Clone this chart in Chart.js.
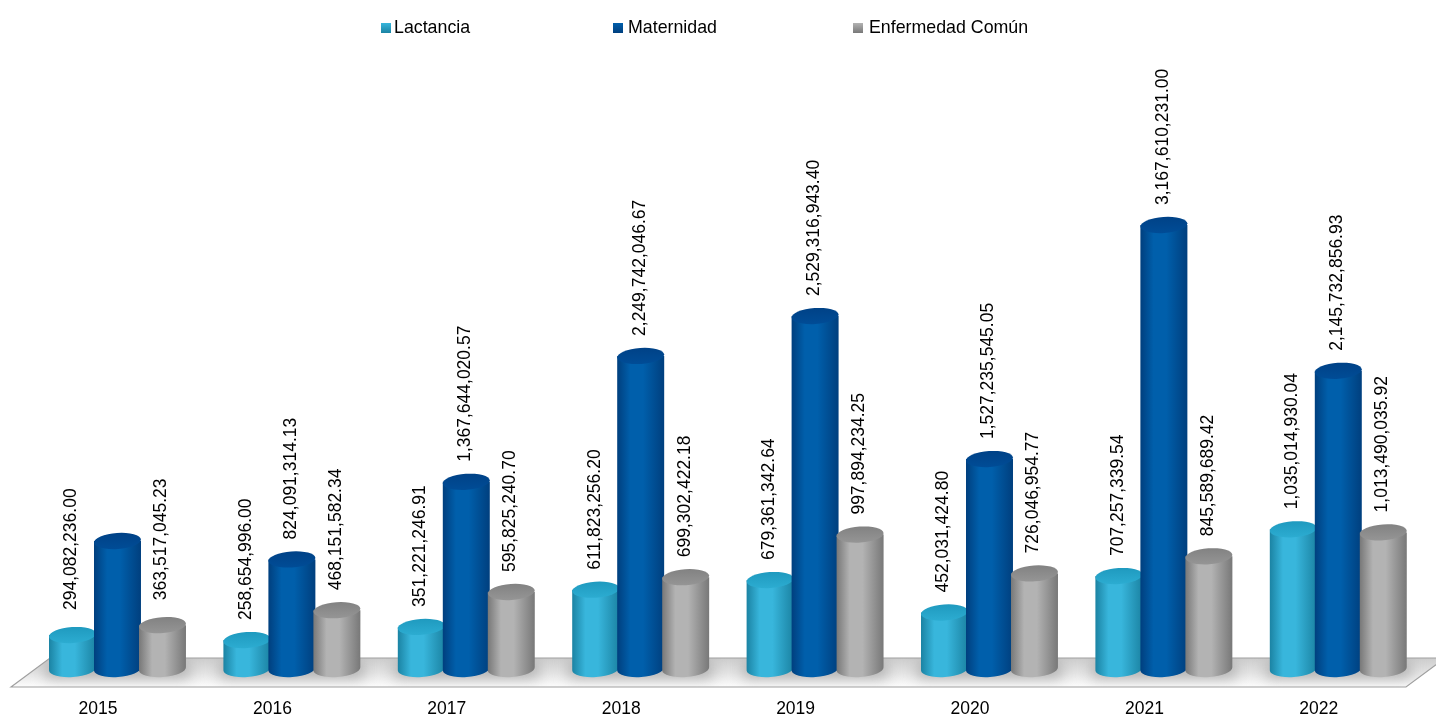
<!DOCTYPE html>
<html>
<head>
<meta charset="utf-8">
<style>
  html, body { margin: 0; padding: 0; background: #fff; }
  #wrap { width: 1436px; height: 716px; position: relative; overflow: hidden; }
</style>
<script src="https://cdn.jsdelivr.net/npm/chart.js@4"></script>
</head>
<body>
<div id="wrap"><canvas id="chart" width="1436" height="716"></canvas></div>
<script>
const years = ["2015", "2016", "2017", "2018", "2019", "2020", "2021", "2022"];
const lactancia = [294082236.0, 258654996.0, 351221246.91, 611823256.2, 679361342.64, 452031424.8, 707257339.54, 1035014930.04];
// the 2015 bar has no label in the original, value estimated from its height
const maternidad = [953000000, 824091314.13, 1367644020.57, 2249742046.67, 2529316943.4, 1527235545.05, 3167610231.0, 2145732856.93];
const enfermedad = [363517045.23, 468151582.34, 595825240.7, 699302422.18, 997894234.25, 726046954.77, 845589689.42, 1013490035.92];
const maternidadSinEtiqueta = [0];

const FONT = '17.5px "Liberation Sans", Arial, sans-serif';
const LEGEND_FONT = '17.8px "Liberation Sans", Arial, sans-serif';

// edge, middle and cap colours per series
const tonos = {
  Lactancia: { edge: "#1b83a3", mid: "#38b6dc", cap: "#1f9abf", cap2: "#2cacd1" },
  Maternidad: { edge: "#003f7e", mid: "#005fab", cap: "#004287", cap2: "#004c96" },
  "Enfermedad Común": { edge: "#787878", mid: "#b3b3b3", cap: "#828282", cap2: "#959595" },
};

function bodyGradient(ctx, left, right, t) {
  const g = ctx.createLinearGradient(left, 0, right, 0);
  g.addColorStop(0, t.edge);
  g.addColorStop(0.28, t.mid);
  g.addColorStop(0.55, t.mid);
  g.addColorStop(1, t.edge);
  return g;
}

function drawFloor(chart) {
  const { ctx } = chart;
  const floor = new Path2D("M11 687 L50 658 L1445 658 L1406 687 Z");
  ctx.save();
  const g = ctx.createLinearGradient(0, 658, 0, 686);
  g.addColorStop(0, "#cdcdcd");
  g.addColorStop(0.55, "#e4e4e4");
  g.addColorStop(1, "#fbfbfb");
  ctx.fillStyle = g;
  ctx.fill(floor);
  ctx.save();
  ctx.clip(floor);
  // soft shadow of the bars on the floor
  ctx.filter = "blur(7px)";
  ctx.fillStyle = "#b0b0b0";
  chart.getDatasetMeta(1).data.forEach((bar) => {
    ctx.fillRect(bar.x - 72, 660, 144, 18);
  });
  ctx.restore();
  ctx.strokeStyle = "#a0a0a0";
  ctx.lineWidth = 1.2;
  ctx.stroke(floor);
  ctx.restore();
}

function drawCylinders(chart, meta, t) {
  const { ctx } = chart;
  const ry = 8;
  const tilt = -0.07;
  ctx.save();
  meta.data.forEach((bar) => {
    const w = bar.width + 2;
    const left = bar.x - w / 2;
    const right = bar.x + w / 2;
    const bottom = bar.base - ry;
    ctx.beginPath();
    ctx.moveTo(left, bar.y);
    ctx.lineTo(left, bottom);
    ctx.ellipse(bar.x, bottom, w / 2, ry, tilt, Math.PI, 0, true);
    ctx.lineTo(right, bar.y);
    ctx.closePath();
    ctx.fillStyle = bodyGradient(ctx, left, right, t);
    ctx.fill();
    const c = ctx.createLinearGradient(0, bar.y - ry, 0, bar.y + ry);
    c.addColorStop(0, t.cap);
    c.addColorStop(1, t.cap2);
    ctx.beginPath();
    ctx.ellipse(bar.x, bar.y, w / 2, ry, tilt, 0, Math.PI * 2);
    ctx.fillStyle = c;
    ctx.fill();
  });
  ctx.restore();
}

// Floor and cylinders, left series first so the next one covers it
const cylinderPlugin = {
  id: "cylinders",
  beforeDatasetsDraw(chart) {
    drawFloor(chart);
    chart.data.datasets.forEach((ds, i) => {
      drawCylinders(chart, chart.getDatasetMeta(i), tonos[ds.label]);
    });
  },
  beforeDatasetDraw() {
    return false;
  },
};

// Rotated value labels and the legend
const labelsPlugin = {
  id: "valueLabels",
  afterDatasetsDraw(chart) {
    const { ctx } = chart;
    ctx.save();
    ctx.font = FONT;
    ctx.fillStyle = "#000";
    ctx.textAlign = "left";
    ctx.textBaseline = "middle";
    chart.data.datasets.forEach((ds, i) => {
      chart.getDatasetMeta(i).data.forEach((bar, j) => {
        if (ds.label === "Maternidad" && maternidadSinEtiqueta.includes(j)) return;
        const txt = ds.data[j].toLocaleString("en-US", { minimumFractionDigits: 2, maximumFractionDigits: 2 });
        ctx.save();
        // the first group sits a little higher in the original
        ctx.translate(bar.x - 1, bar.y - (j === 0 ? 25 : 20));
        ctx.rotate(-Math.PI / 2);
        ctx.fillText(txt, 0, 0);
        ctx.restore();
      });
    });

    const legendX = [381, 613, 853];
    const legendTextX = [394, 628, 869];
    ctx.font = LEGEND_FONT;
    chart.data.datasets.forEach((ds, i) => {
      const t = tonos[ds.label];
      const x = legendX[i];
      const g = ctx.createLinearGradient(x, 23, x, 33);
      g.addColorStop(0, t.mid);
      g.addColorStop(1, t.edge);
      ctx.fillStyle = g;
      ctx.fillRect(x, 23, 10, 10);
      ctx.fillStyle = "#000";
      ctx.fillText(ds.label, legendTextX[i], 28);
    });
    ctx.restore();
  },
};

new Chart(document.getElementById("chart"), {
  type: "bar",
  data: {
    labels: years,
    datasets: [
      { label: "Lactancia", data: lactancia, backgroundColor: "#2fb0d4" },
      { label: "Maternidad", data: maternidad, backgroundColor: "#0058a4" },
      { label: "Enfermedad Común", data: enfermedad, backgroundColor: "#9a9a9a" },
    ],
  },
  options: {
    responsive: false,
    animation: false,
    categoryPercentage: 0.774,
    barPercentage: 1,
    layout: { padding: { left: 30.3, right: 10.5, top: 34.85, bottom: 0 } },
    scales: {
      x: {
        grid: { display: false },
        border: { display: false },
        ticks: {
          font: { family: '"Liberation Sans", Arial, sans-serif', size: 17.5 },
          color: "#000",
          labelOffset: -19.5,
          padding: 14,
          maxRotation: 0,
        },
        afterFit(scale) {
          scale.height = 39;
        },
      },
      y: {
        display: false,
        min: 0,
        max: 4500000000,
      },
    },
    plugins: {
      legend: { display: false },
      tooltip: { enabled: false },
    },
  },
  plugins: [cylinderPlugin, labelsPlugin],
});
</script>
</body>
</html>
